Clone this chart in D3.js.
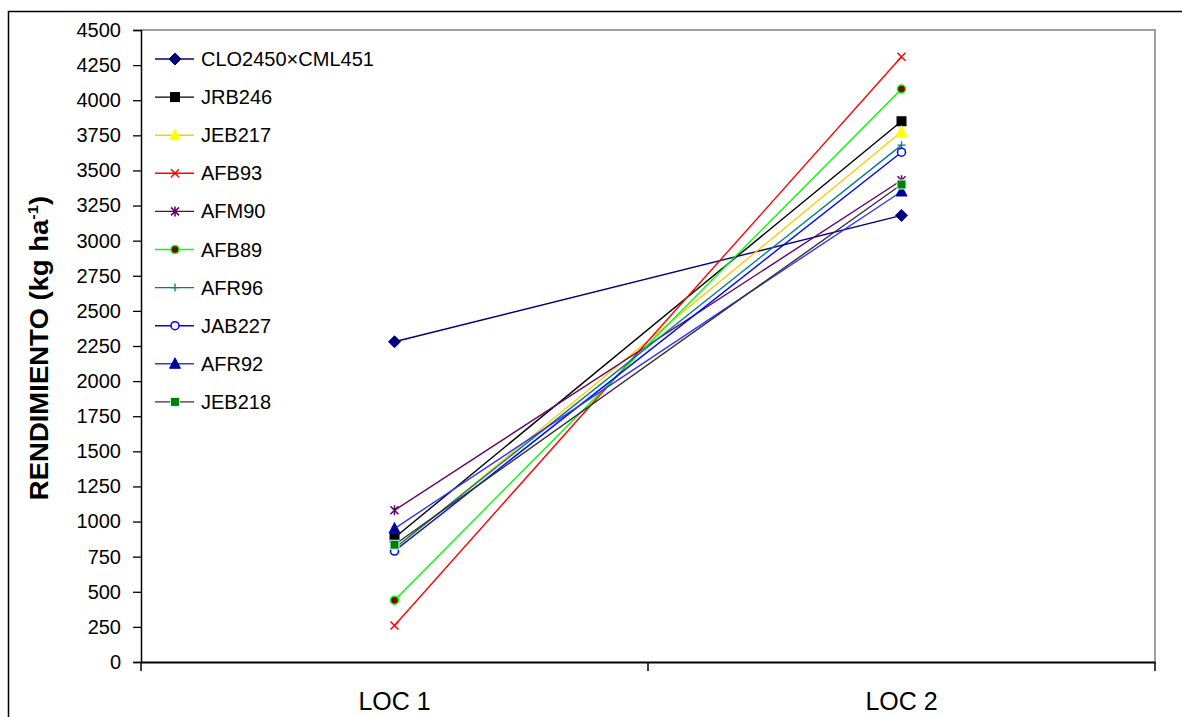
<!DOCTYPE html>
<html>
<head>
<meta charset="utf-8">
<script src="https://cdn.jsdelivr.net/npm/d3@7"></script>
<style>
  body { margin: 0; background: #fff; overflow: hidden; }
  text { font-family: "Liberation Sans", Arial, sans-serif; }
</style>
</head>
<body>
<script>
'use strict';

var width = 1182,
    height = 717;

// data
var locations = ["LOC 1", "LOC 2"];
var names = ["CLO2450\u00d7CML451", "JRB246", "JEB217", "AFB93", "AFM90",
             "AFB89", "AFR96", "JAB227", "AFR92", "JEB218"];
var loc1 = [2280, 885, 800, 260, 1080, 440, 810, 790, 950, 835];
var loc2 = [3180, 3850, 3775, 4310, 3430, 4080, 3680, 3630, 3350, 3400];
var yTicks = d3.range(0, 4501, 250);

// look of each series
var lineColor = ["#000080", "#000000", "#FFCC00", "#FF0000", "#660066",
                 "#00FF00", "#008080", "#0000FF", "#3333FF", "#333333"];
var markerType = ["diamond", "square", "triangle", "x", "star",
                  "circle", "plus", "ocircle", "triangle", "square"];
var markerFill = ["#000080", "#000000", "#FFFF00", "none", "none",
                  "#800000", "none", "#FFFFFF", "#000080", "#008000"];
var markerStroke = ["#000080", "#000000", "#FFFF00", "#FF0000", "#660066",
                    "#00FF00", "#008080", "#0000FF", "#0000FF", "#CCFFFF"];

var series = names.map(function(n, i) {
  return { name: n, i: i, values: [loc1[i], loc2[i]] };
});

var svg = d3.select("body").append("svg")
    .attr("width", width)
    .attr("height", height);

// outer chart frame (runs off the right and bottom edge)
svg.append("rect")
    .attr("x", 8.5).attr("y", 11.5)
    .attr("width", 1300).attr("height", 800)
    .attr("fill", "none")
    .attr("stroke", "#000")
    .attr("stroke-width", 1.5);

var pLeft = 141, pRight = 1155, pTop = 30, pBottom = 662;

var x = d3.scaleBand().domain(locations).range([pLeft, pRight]);
var y = d3.scaleLinear().domain([0, 4500]).range([pBottom, pTop]);

// plot area border (top / right gray)
svg.append("path")
    .attr("d", "M" + pLeft + "," + pTop + "H" + pRight + "V" + pBottom)
    .attr("fill", "none")
    .attr("stroke", "#A0A0A0")
    .attr("stroke-width", 2);

// y axis
var yAxis = svg.append("g")
    .attr("transform", "translate(" + pLeft + ",0)")
    .call(d3.axisLeft(y).tickValues(yTicks).tickSize(8).tickPadding(12).tickFormat(d3.format("d")));
yAxis.select(".domain").attr("stroke", "#000").attr("stroke-width", 1.5);
yAxis.selectAll(".tick line").attr("stroke", "#000").attr("stroke-width", 1.3);
yAxis.selectAll("text")
    .attr("fill", "#000")
    .style("font-size", "20px")
    .style("font-family", "Liberation Sans, Arial, sans-serif");

// x axis
var xAxis = svg.append("g")
    .attr("transform", "translate(0," + pBottom + ")")
    .call(d3.axisBottom(x).tickSize(0).tickPadding(30));
xAxis.select(".domain").attr("stroke", "#000").attr("stroke-width", 2);
xAxis.selectAll("text")
    .attr("fill", "#000")
    .style("font-size", "25px")
    .style("font-family", "Liberation Sans, Arial, sans-serif");

// category separator ticks
var sepX = [pLeft, pLeft + x.bandwidth(), pRight];
svg.append("g").selectAll("line")
    .data(sepX)
    .enter().append("line")
    .attr("x1", function(d) { return d; })
    .attr("x2", function(d) { return d; })
    .attr("y1", pBottom)
    .attr("y2", pBottom + 9)
    .attr("stroke", "#000")
    .attr("stroke-width", 1.5);

// y axis title (a bit wide, like the original)
var title = svg.append("text")
    .attr("transform", "translate(48,348) rotate(-90) scale(1.1,1)")
    .attr("text-anchor", "middle")
    .style("font-size", "25px")
    .style("font-weight", "bold")
    .attr("fill", "#000");
title.append("tspan").text("RENDIMIENTO (kg ha");
title.append("tspan").attr("dy", -10).style("font-size", "15px").text("-1");
title.append("tspan").attr("dy", 10).text(")");

function cx(j) { return x(locations[j]) + x.bandwidth() / 2; }

function drawMarker(g, type, fill, stroke) {
  if (type === "diamond") {
    g.append("path").attr("d", "M0,-6L6,0L0,6L-6,0Z")
      .attr("fill", fill).attr("stroke", stroke).attr("stroke-width", 1);
  } else if (type === "square") {
    g.append("rect").attr("x", -4.5).attr("y", -4.5).attr("width", 9).attr("height", 9)
      .attr("fill", fill).attr("stroke", stroke).attr("stroke-width", 1);
  } else if (type === "triangle") {
    g.append("path").attr("d", "M0,-6L5.5,4.5L-5.5,4.5Z")
      .attr("fill", fill).attr("stroke", stroke).attr("stroke-width", 1);
  } else if (type === "x") {
    g.append("path").attr("d", "M-4,-4L4,4M-4,4L4,-4")
      .attr("stroke", stroke).attr("stroke-width", 1.5);
  } else if (type === "star") {
    g.append("path").attr("d", "M-4,-4L4,4M-4,4L4,-4M0,-5V5")
      .attr("stroke", stroke).attr("stroke-width", 1.5);
  } else if (type === "plus") {
    g.append("path").attr("d", "M-4,0H4M0,-4V4")
      .attr("stroke", stroke).attr("stroke-width", 1.3);
  } else {
    g.append("circle").attr("r", 4)
      .attr("fill", fill).attr("stroke", stroke).attr("stroke-width", 1.5);
  }
}

var line = d3.line()
    .x(function(d, j) { return cx(j); })
    .y(function(d) { return y(d); });

var plot = svg.append("g").attr("class", "series");

series.forEach(function(s) {
  plot.append("path")
      .attr("d", line(s.values))
      .attr("fill", "none")
      .attr("stroke", lineColor[s.i])
      .attr("stroke-width", 1.4);
});

series.forEach(function(s) {
  s.values.forEach(function(v, j) {
    var g = plot.append("g").attr("transform", "translate(" + cx(j) + "," + y(v) + ")");
    drawMarker(g, markerType[s.i], markerFill[s.i], markerStroke[s.i]);
  });
});

// legend
var legend = svg.append("g").attr("class", "legend")
    .selectAll("g")
    .data(series)
    .enter().append("g")
    .attr("transform", function(d) { return "translate(155," + (59 + d.i * 38.1) + ")"; });

legend.append("line")
    .attr("x1", 0).attr("x2", 39)
    .attr("stroke", function(d) { return lineColor[d.i]; })
    .attr("stroke-width", 1.4);

legend.each(function(d) {
  var g = d3.select(this).append("g").attr("transform", "translate(20,0)");
  drawMarker(g, markerType[d.i], markerFill[d.i], markerStroke[d.i]);
});

legend.append("text")
    .attr("x", 46)
    .attr("y", 7)
    .style("font-size", "20px")
    .attr("fill", "#000")
    .text(function(d) { return d.name; });
</script>
</body>
</html>
